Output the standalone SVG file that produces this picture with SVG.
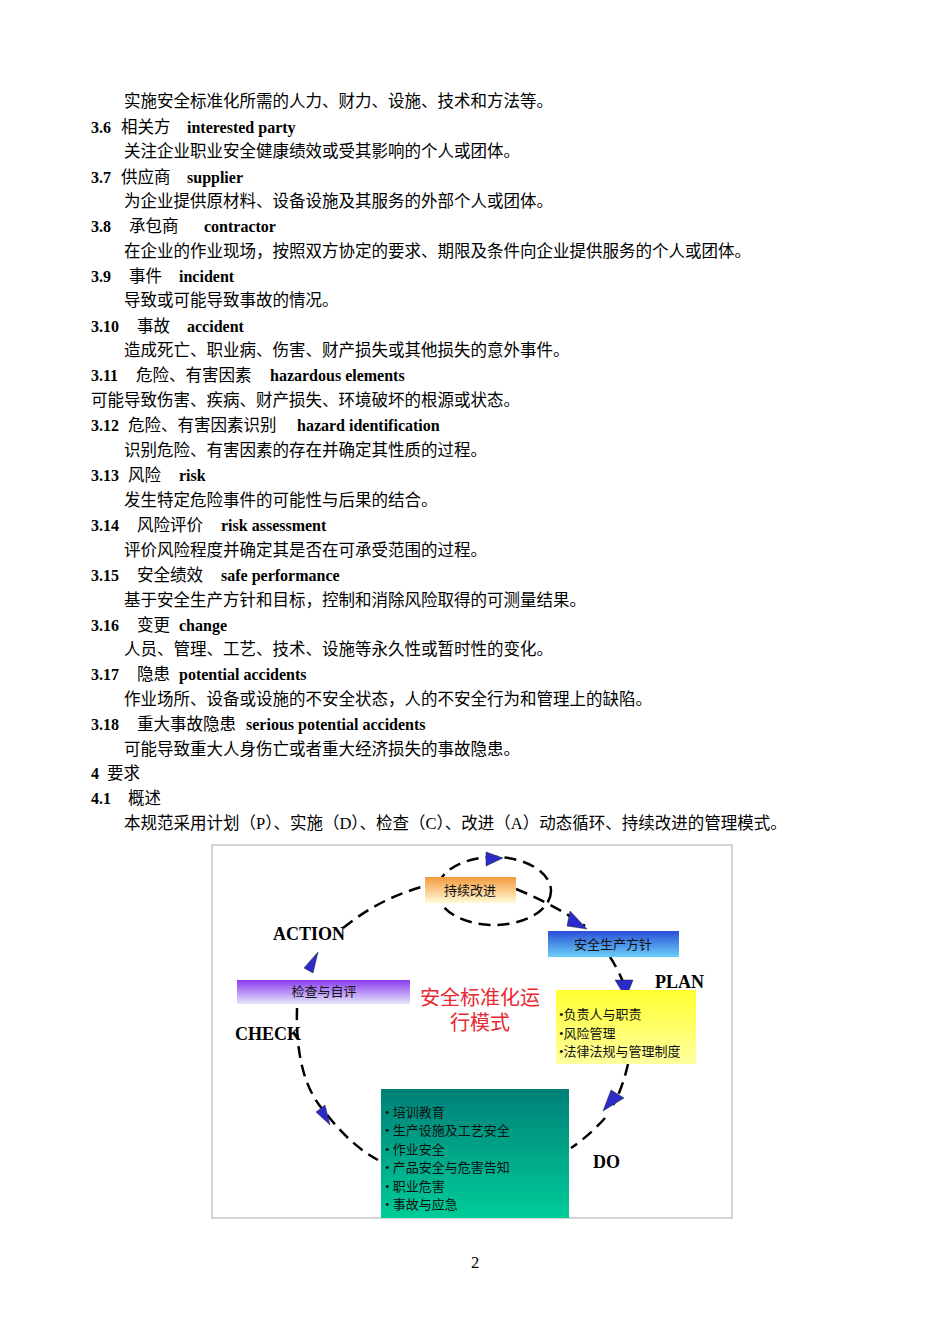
<svg xmlns="http://www.w3.org/2000/svg" width="950" height="1344" viewBox="0 0 950 1344">
<style>
.t{font-family:"Liberation Serif","Noto Sans CJK SC",serif;font-size:16.5px;fill:#000}
.b{font-weight:bold;font-size:16px}
.lab{font-family:"Liberation Serif",serif;font-weight:bold;font-size:18px;fill:#000}
.bx{font-family:"Liberation Serif","Noto Sans CJK SC",serif;font-size:13px;fill:#111}
.dash{fill:none;stroke:#000;stroke-width:2.5;stroke-dasharray:12,7}
.ar{fill:#2b2bc8;stroke:#222;stroke-width:0.5}
</style>
<defs>
<linearGradient id="go" x1="0" y1="0" x2="0" y2="1"><stop offset="0" stop-color="#f39a3c"/><stop offset="1" stop-color="#fffbd8"/></linearGradient>
<linearGradient id="gb" x1="0" y1="0" x2="0" y2="1"><stop offset="0" stop-color="#2a4fd8"/><stop offset="1" stop-color="#6ad0f6"/></linearGradient>
<linearGradient id="gp" x1="0" y1="0" x2="0" y2="1"><stop offset="0" stop-color="#8a3cf0"/><stop offset="1" stop-color="#e6e6fb"/></linearGradient>
<linearGradient id="gy" x1="0" y1="0" x2="0" y2="1"><stop offset="0" stop-color="#ffff30"/><stop offset="1" stop-color="#ffffa0"/></linearGradient>
<linearGradient id="gg" x1="0" y1="0" x2="0" y2="1"><stop offset="0" stop-color="#008078"/><stop offset="1" stop-color="#00cc98"/></linearGradient>
</defs>
<rect width="950" height="1344" fill="#fff"/>
<g id="body">
<text class="t" x="124" y="107">实施安全标准化所需的人力、财力、设施、技术和方法等。</text>
<text class="t" y="133"><tspan class="b" x="91">3.6</tspan><tspan x="121">相关方</tspan><tspan class="b" x="187">interested party</tspan></text>
<text class="t" x="124" y="157">关注企业职业安全健康绩效或受其影响的个人或团体。</text>
<text class="t" y="183"><tspan class="b" x="91">3.7</tspan><tspan x="121">供应商</tspan><tspan class="b" x="187">supplier</tspan></text>
<text class="t" x="124" y="207">为企业提供原材料、设备设施及其服务的外部个人或团体。</text>
<text class="t" y="232"><tspan class="b" x="91">3.8</tspan><tspan x="129">承包商</tspan><tspan class="b" x="204">contractor</tspan></text>
<text class="t" x="124" y="257">在企业的作业现场，按照双方协定的要求、期限及条件向企业提供服务的个人或团体。</text>
<text class="t" y="282"><tspan class="b" x="91">3.9</tspan><tspan x="129">事件</tspan><tspan class="b" x="179">incident</tspan></text>
<text class="t" x="124" y="306">导致或可能导致事故的情况。</text>
<text class="t" y="332"><tspan class="b" x="91">3.10</tspan><tspan x="137">事故</tspan><tspan class="b" x="187">accident</tspan></text>
<text class="t" x="124" y="356">造成死亡、职业病、伤害、财产损失或其他损失的意外事件。</text>
<text class="t" y="381"><tspan class="b" x="91">3.11</tspan><tspan x="136">危险、有害因素</tspan><tspan class="b" x="270">hazardous elements</tspan></text>
<text class="t" x="91" y="406">可能导致伤害、疾病、财产损失、环境破坏的根源或状态。</text>
<text class="t" y="431"><tspan class="b" x="91">3.12</tspan><tspan x="128">危险、有害因素识别</tspan><tspan class="b" x="297">hazard identification</tspan></text>
<text class="t" x="124" y="456">识别危险、有害因素的存在并确定其性质的过程。</text>
<text class="t" y="481"><tspan class="b" x="91">3.13</tspan><tspan x="128">风险</tspan><tspan class="b" x="179">risk</tspan></text>
<text class="t" x="124" y="506">发生特定危险事件的可能性与后果的结合。</text>
<text class="t" y="531"><tspan class="b" x="91">3.14</tspan><tspan x="137">风险评价</tspan><tspan class="b" x="221">risk assessment</tspan></text>
<text class="t" x="124" y="556">评价风险程度并确定其是否在可承受范围的过程。</text>
<text class="t" y="581"><tspan class="b" x="91">3.15</tspan><tspan x="137">安全绩效</tspan><tspan class="b" x="221">safe performance</tspan></text>
<text class="t" x="124" y="606">基于安全生产方针和目标，控制和消除风险取得的可测量结果。</text>
<text class="t" y="631"><tspan class="b" x="91">3.16</tspan><tspan x="137">变更</tspan><tspan class="b" x="179">change</tspan></text>
<text class="t" x="124" y="655">人员、管理、工艺、技术、设施等永久性或暂时性的变化。</text>
<text class="t" y="680"><tspan class="b" x="91">3.17</tspan><tspan x="137">隐患</tspan><tspan class="b" x="179">potential accidents</tspan></text>
<text class="t" x="124" y="705">作业场所、设备或设施的不安全状态，人的不安全行为和管理上的缺陷。</text>
<text class="t" y="730"><tspan class="b" x="91">3.18</tspan><tspan x="137">重大事故隐患</tspan><tspan class="b" x="246">serious potential accidents</tspan></text>
<text class="t" x="124" y="755">可能导致重大人身伤亡或者重大经济损失的事故隐患。</text>
<text class="t" y="779"><tspan class="b" x="91">4</tspan><tspan x="107">要求</tspan></text>
<text class="t" y="804"><tspan class="b" x="91">4.1</tspan><tspan x="128">概述</tspan></text>
<text class="t" x="124" y="829">本规范采用计划（P）、实施（D）、检查（C）、改进（A）动态循环、持续改进的管理模式。</text>
<text class="t" x="475" y="1268" text-anchor="middle" font-size="13">2</text>
</g>
<rect x="212" y="845" width="520" height="373" fill="#fff" stroke="#aaa" stroke-width="1"/>
<g id="connectors">
<path class="dash" d="M343,928 Q380,898 425,886"/>
<path class="dash" d="M516,889 Q555,905 585,926"/>
<ellipse class="dash" cx="494" cy="891" rx="57" ry="34"/>
<path class="dash" d="M610,957 Q620,972 628,995"/>
<path class="dash" d="M628,1064 Q622,1090 613,1105"/>
<path class="dash" d="M605,1118 Q590,1135 571,1148"/>
<path class="dash" d="M297,1008 Q295,1080 325,1112 Q350,1145 378,1160"/>
<polygon class="ar" points="486,852 503,858 486,866"/>
<polygon class="ar" points="570,911 587,929 567,926"/>
<polygon class="ar" points="615,980 633,980 626,998"/>
<polygon class="ar" points="611,1090 624,1098 603,1111"/>
<polygon class="ar" points="316,1112 325,1105 330,1125"/>
<polygon class="ar" points="304,968 318,952 313,973"/>
</g>
<g id="n_improve"><rect x="425" y="877" width="91" height="26" fill="url(#go)"/><text class="bx" x="470" y="895" text-anchor="middle" font-size="14">持续改进</text></g>
<g id="n_policy"><rect x="548" y="931" width="131" height="26" fill="url(#gb)"/><text class="bx" x="613" y="949" text-anchor="middle" font-size="14">安全生产方针</text></g>
<g id="n_check"><rect x="237" y="980" width="173" height="24" fill="url(#gp)"/><text class="bx" x="324" y="996" text-anchor="middle">检查与自评</text></g>
<g id="n_plan"><rect x="556" y="990" width="140" height="74" fill="url(#gy)"/>
<text class="bx" x="559" y="1019">•负责人与职责</text><text class="bx" x="559" y="1038">•风险管理</text><text class="bx" x="559" y="1056">•法律法规与管理制度</text></g>
<g id="n_do"><rect x="381" y="1089" width="188" height="129" fill="url(#gg)"/>
<text class="bx" x="385" y="1117">• 培训教育</text><text class="bx" x="385" y="1135">• 生产设施及工艺安全</text><text class="bx" x="385" y="1154">• 作业安全</text><text class="bx" x="385" y="1172">• 产品安全与危害告知</text><text class="bx" x="385" y="1191">• 职业危害</text><text class="bx" x="385" y="1209">• 事故与应急</text></g>
<g id="labels">
<text class="lab" x="273" y="940">ACTION</text>
<text class="lab" x="235" y="1040">CHECK</text>
<text class="lab" x="655" y="988" font-size="16">PLAN</text>
<text class="lab" x="593" y="1168">DO</text>
<text x="480" y="1005" text-anchor="middle" font-family="Liberation Sans,Noto Sans CJK SC,sans-serif" font-size="20" fill="#e8282f">安全标准化运</text>
<text x="480" y="1030" text-anchor="middle" font-family="Liberation Sans,Noto Sans CJK SC,sans-serif" font-size="20" fill="#e8282f">行模式</text>
</g>
</svg>
